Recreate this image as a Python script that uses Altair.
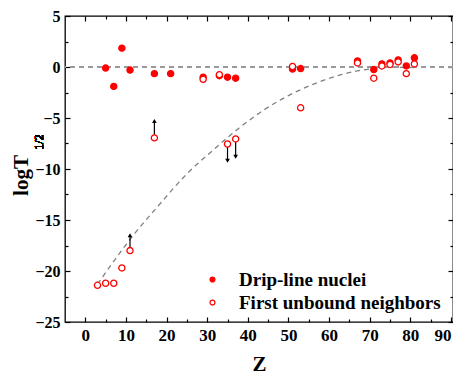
import altair as alt
import pandas as pd

FONT = "Liberation Serif"

# ---- data ----
drip_z = [5, 7, 9, 11, 17, 21, 29, 33, 35, 37, 51, 53, 67, 71, 73, 75, 77, 79, 81]
drip_logt = [-0.1, -1.9, 1.85, -0.3, -0.65, -0.65, -1.0, -0.85, -1.0, -1.1,
             -0.2, -0.15, 0.6, -0.25, 0.3, 0.4, 0.7, 0.1, 0.9]
unb_z = [3, 5, 7, 9, 11, 17, 29, 33, 35, 37, 51, 53, 67, 71, 73, 75, 77, 79, 81]
unb_logt = [-21.4, -21.2, -21.2, -19.7, -18.0, -6.95, -1.2, -0.75, -7.55, -7.05,
            0.05, -4.0, 0.4, -1.1, 0.1, 0.25, 0.5, -0.65, 0.3]

arrow_z = [11, 17, 35, 37]
arrow_from = [-18.0, -6.95, -7.55, -7.05]
arrow_to = [-16.5, -5.3, -9.2, -8.8]
arrow_dir = ["up", "up", "down", "down"]

curve_z = [3, 6, 11.6, 18.2, 24.7, 31.3, 37.8, 44, 50, 56.7, 63, 69, 75, 81]
curve_logt = [-21.3, -19.6, -16.6, -13.5, -10.6, -8.2, -6.0, -4.2, -2.8, -1.6,
              -0.75, -0.25, -0.02, -0.06]

series_names = ["Drip-line nuclei", "First unbound neighbors"]

x_major = list(range(0, 91, 10))
x_minor = list(range(5, 91, 10))
y_major = list(range(-25, 6, 5))
y_minor = [-22.5, -17.5, -12.5, -7.5, -2.5, 2.5]

# ---- tables ----
pts = pd.DataFrame({
    "Z": drip_z + unb_z,
    "logT": drip_logt + unb_logt,
    "series": [series_names[0]] * len(drip_z) + [series_names[1]] * len(unb_z),
})
curve = pd.DataFrame({"Z": curve_z, "logT": curve_logt})
arrows = pd.DataFrame({"Z": arrow_z, "logT": arrow_from, "tip": arrow_to, "dir": arrow_dir})

xs = alt.Scale(domain=[-5, 90.5], nice=False, zero=False)
ys = alt.Scale(domain=[-25, 5], nice=False, zero=False)


def axis(orient, values, size, labels=False, lfs=17, **kw):
    return alt.Axis(orient=orient, values=values, tickSize=size, offset=-size,
                    domain=False, grid=False, labels=labels, tickColor="black",
                    tickWidth=1.2, labelFont=FONT, labelFontWeight="bold",
                    labelFontSize=lfs, labelColor="black", **kw)


# main axes (bottom / left with labels)
curve_layer = alt.Chart(curve).mark_line(
    color="#808080", strokeDash=[5, 4], strokeWidth=1.3, interpolate="monotone"
).encode(
    x=alt.X("Z:Q", scale=xs, axis=axis("bottom", x_major, 5, labels=True,
                                         labelPadding=5, labelFlush=4,
                                         title="Z", titleFont=FONT,
                                         titleFontSize=21, titleFontWeight="bold",
                                         titleColor="black", titlePadding=10)),
    y=alt.Y("logT:Q", scale=ys, axis=axis("left", y_major, 5, labels=True,
                                            labelPadding=5, lfs=16,
                                            title="logT", titleFont=FONT,
                                            titleFontSize=21, titleFontWeight="bold",
                                            titleColor="black", titleAngle=270,
                                            titleX=-43, titleY=159, titleAlign="center",
                                            titleBaseline="alphabetic")),
)

zero_rule = alt.Chart(pts).mark_rule(
    color="#999999", strokeDash=[5, 4], strokeWidth=1.3
).encode(y=alt.YDatum(0, scale=ys, axis=None))

arrow_shaft = alt.Chart(arrows).mark_rule(color="black", strokeWidth=1.2).encode(
    x=alt.X("Z:Q", scale=xs, axis=None),
    y=alt.Y("logT:Q", scale=ys, axis=None),
    y2="tip:Q",
)
arrow_up = alt.Chart(arrows).transform_filter("datum.dir == 'up'").mark_point(
    shape="triangle-up", filled=True, color="black", size=22, opacity=1
).encode(x=alt.X("Z:Q", scale=xs, axis=None), y=alt.Y("tip:Q", scale=ys, axis=None))
arrow_down = alt.Chart(arrows).transform_filter("datum.dir == 'down'").mark_point(
    shape="triangle-down", filled=True, color="black", size=22, opacity=1
).encode(x=alt.X("Z:Q", scale=xs, axis=None), y=alt.Y("tip:Q", scale=ys, axis=None))

points = alt.Chart(pts).mark_point(
    shape="circle", size=38, stroke="#ff0000", strokeWidth=1.3, opacity=1, fillOpacity=1
).encode(
    x=alt.X("Z:Q", scale=xs, axis=None),
    y=alt.Y("logT:Q", scale=ys, axis=None),
    fill=alt.Fill("series:N", scale=alt.Scale(domain=series_names, range=["#ff0000", "#ffffff"]),
                  legend=alt.Legend(title=None, orient="none", legendX=138, legendY=254,
                                    symbolType="circle", symbolSize=24,
                                    symbolStrokeColor="#ff0000", symbolStrokeWidth=1.2,
                                    labelFont=FONT, labelFontSize=19, labelFontWeight="bold",
                                    labelColor="black", labelOffset=17, rowPadding=3,
                                    padding=0, labelLimit=400)),
)

sub = alt.Chart(pts).mark_text(
    text="1/2", angle=270, font=FONT, fontSize=12, align="center", baseline="alphabetic",
    color="black"
).encode(x=alt.value(-22), y=alt.value(126))


def ghost(xo, xv, xsz, yo, yv, ysz):
    return alt.Chart(curve).mark_point(opacity=0).encode(
        x=alt.X("Z:Q", scale=xs, axis=axis(xo, xv, xsz, title=None)),
        y=alt.Y("logT:Q", scale=ys, axis=axis(yo, yv, ysz, title=None)),
    )


chart = alt.layer(
    curve_layer,
    ghost("bottom", x_minor, 3, "left", y_minor, 3),
    ghost("top", x_major, 5, "right", y_major, 5),
    ghost("top", x_minor, 3, "right", y_minor, 3),
    zero_rule,
    arrow_shaft,
    arrow_up,
    arrow_down,
    points,
    sub,
).resolve_axis(x="independent", y="independent").properties(
    width=388, height=306,
    autosize=alt.AutoSizeParams(type="none"),
    padding={"left": 57, "top": 8, "right": 0, "bottom": 53},
    background="white",
).configure_view(stroke="black", strokeWidth=1.3)

chart.save("out.html", embed_options={"renderer": "svg", "actions": False})
